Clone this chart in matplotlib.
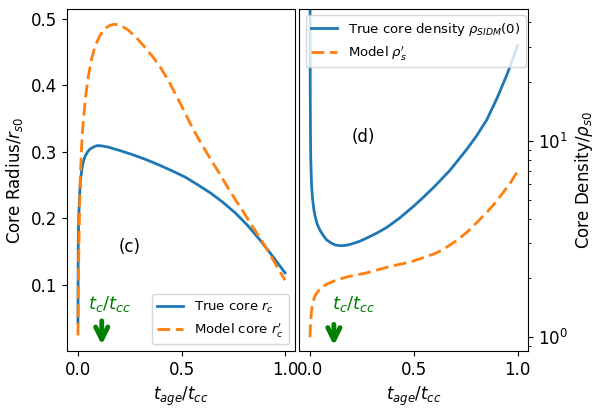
import matplotlib
matplotlib.use("Agg")
import matplotlib.pyplot as plt

plt.rcParams['font.family'] = ['DejaVu Sans']
plt.rcParams['mathtext.fontset'] = 'dejavusans'

# panel (c): core radius vs t_age/t_cc
t_rc = [0.0, 0.0015, 0.004, 0.008, 0.012, 0.018, 0.025, 0.034, 0.045, 0.058, 0.075,
        0.09, 0.11, 0.145, 0.2, 0.26, 0.33, 0.396, 0.46, 0.52, 0.58, 0.64, 0.70,
        0.76, 0.82, 0.88, 0.94, 1.0]
rc_true = [0.043, 0.165, 0.205, 0.235, 0.256, 0.272, 0.284, 0.293, 0.299, 0.304, 0.307,
           0.309, 0.309, 0.307, 0.302, 0.296, 0.288, 0.2795, 0.2705, 0.2615, 0.250, 0.238, 0.224,
           0.208, 0.189, 0.167, 0.143, 0.118]

t_rc_model = [0.0, 0.002, 0.005, 0.01, 0.018, 0.026, 0.038, 0.05, 0.065, 0.082, 0.105,
              0.13, 0.155, 0.179, 0.21, 0.243, 0.28, 0.32, 0.36, 0.396, 0.44, 0.50,
              0.557, 0.60, 0.64, 0.68, 0.718, 0.76, 0.80, 0.84, 0.88, 0.92, 0.96, 1.0]
rc_model = [0.024, 0.10, 0.165, 0.25, 0.31, 0.348, 0.385, 0.413, 0.438, 0.458, 0.474,
            0.485, 0.490, 0.4915, 0.489, 0.4826, 0.472, 0.458, 0.443, 0.428, 0.405, 0.369,
            0.333, 0.310, 0.289, 0.269, 0.249, 0.228, 0.209, 0.189, 0.170, 0.150, 0.128, 0.107]

# panel (d): central density vs t_age/t_cc
t_rho = [0.0, 0.001, 0.002, 0.003, 0.004, 0.006, 0.008, 0.012, 0.018, 0.024, 0.035,
         0.048, 0.065, 0.08, 0.10, 0.12, 0.144, 0.17, 0.20, 0.24, 0.28, 0.32, 0.37,
         0.433, 0.50, 0.55, 0.60, 0.673, 0.75, 0.80, 0.85, 0.90, 0.95, 1.0]
rho_true = [60.0, 20.0, 12.0, 9.0, 7.8, 6.6, 5.85, 5.1, 4.5, 4.15, 3.75,
            3.5, 3.28, 3.13, 3.02, 2.95, 2.92, 2.93, 2.98, 3.08, 3.22, 3.38, 3.62,
            4.05, 4.65, 5.2, 5.85, 7.05, 8.9, 10.5, 12.7, 16.4, 21.9, 30.5]

t_rho_model = [0.0, 0.002, 0.005, 0.008, 0.015, 0.025, 0.04, 0.06, 0.08, 0.12, 0.16,
               0.19, 0.23, 0.27, 0.31, 0.352, 0.40, 0.45, 0.497, 0.55, 0.60, 0.64,
               0.70, 0.753, 0.80, 0.85, 0.89, 0.93, 0.965, 1.0]
rho_model = [1.0, 1.15, 1.28, 1.38, 1.52, 1.63, 1.72, 1.80, 1.86, 1.94, 2.00,
             2.04, 2.08, 2.12, 2.18, 2.24, 2.31, 2.37, 2.44, 2.55, 2.66, 2.79,
             3.07, 3.4, 3.8, 4.3, 4.8, 5.44, 6.1, 7.0]

t_c = 0.115
green = 'green'
dash = (0, (4.6, 2.0))

fig = plt.figure(figsize=(5.98, 4.12), dpi=100)
ax1 = fig.add_axes([0.112, 0.148, 0.382, 0.831])
ax2 = fig.add_axes([0.500, 0.148, 0.383, 0.831])

# left panel
ax1.plot(t_rc, rc_true, color='C0', lw=2, label='True core $r_c$')
ax1.plot(t_rc_model, rc_model, color='C1', lw=2, linestyle=dash, label="Model core $r_c'$")
ax1.set_xlim(-0.053, 1.05)
ax1.set_xlabel('$t_{age}/t_{cc}$', fontsize=12)
ax1.set_ylabel('Core Radius/$r_{s0}$', fontsize=12)
ax1.set_xticks([0.0, 0.5, 1.0])
ax1.set_yticks([0.1, 0.2, 0.3, 0.4, 0.5])
ax1.tick_params(labelsize=12)
ax1.legend(loc='lower right', fontsize=9.5)
ax1.text(0.251, 0.157, '(c)', fontsize=12, ha='center', va='center')
ax1.text(0.05, 0.071, '$t_c/t_{cc}$', color=green, fontsize=13, ha='left', va='center')
ax1.annotate('', xy=(t_c, 0.006), xytext=(t_c, 0.05),
             arrowprops=dict(arrowstyle='->', color=green, lw=3.5, mutation_scale=22))

# right panel
ax2.plot(t_rho, rho_true, color='C0', lw=2, label=r'True core density $\rho_{SIDM}(0)$')
ax2.plot(t_rho_model, rho_model, color='C1', lw=2, linestyle=dash, label=r"Model $\rho_s'$")
ax2.set_yscale('log')
ax2.set_ylim(0.85, 47)
ax2.set_xlim(-0.053, 1.05)
ax2.yaxis.tick_right()
ax2.yaxis.set_label_position('right')
ax2.set_xlabel('$t_{age}/t_{cc}$', fontsize=12)
ax2.set_ylabel(r'Core Density/$\rho_{s0}$', fontsize=12)
ax2.set_xticks([0.0, 0.5, 1.0])
ax2.tick_params(labelsize=12)
ax2.legend(loc='upper left', fontsize=9.5)
ax2.text(0.256, 10.4, '(d)', fontsize=12, ha='center', va='center')
ax2.text(0.104, 1.47, '$t_c/t_{cc}$', color=green, fontsize=13, ha='left', va='center')
ax2.annotate('', xy=(t_c, 0.88), xytext=(t_c, 1.2),
             arrowprops=dict(arrowstyle='->', color=green, lw=3.5, mutation_scale=22))

fig.savefig('out.png', dpi=100)
